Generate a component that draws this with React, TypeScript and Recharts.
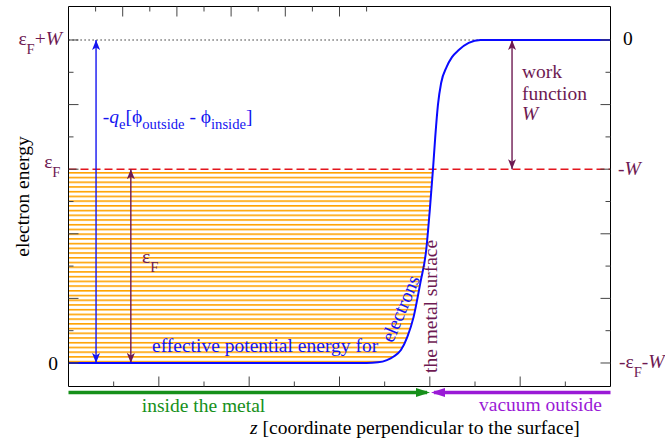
import React from 'react';
import {
  ComposedChart,
  Line,
  Area,
  XAxis,
  YAxis,
  ReferenceLine,
  ReferenceDot,
} from 'recharts';

// effective potential energy for electrons
// z in axis units (surface at 8), energy in units above the bottom of the well
const zValues = [0, 6.6, 6.85, 7.05, 7.2, 7.36, 7.5, 7.64, 7.79, 7.92, 8.0, 8.07, 8.12, 8.18, 8.25, 8.37, 8.49, 8.64, 8.86, 9.12, 12];
const energy = [0, 0, 0.02, 0.09, 0.2, 0.4, 0.8, 1.42, 2.48, 3.5, 4.75, 6.0, 7.0, 8.0, 8.67, 9.16, 9.47, 9.69, 9.91, 10, 10];

const fermi = 6; // εF
const workFn = 4; // W
const surfaceZ = 8;

// where the vertical arrows stand
const vacuumArrowZ = 0.61;
const fermiArrowZ = 1.38;
const workArrowZ = 9.82;

const zTicks = [1, 2, 3, 4, 5, 6, 7, 8, 9, 10, 11];
const eTicks = [0, 1, 2, 3, 4, 5, 6, 7, 8, 9, 10];
const labelTicks = [0, 6, 10];
const leftTickLabels = ['0', 'ε_{F}', 'ε_{F}+*W*'];
const rightTickLabels = ['-ε_{F}-*W*', '-*W*', '0'];

const W = 665;
const H = 441;
const FONT = '"Liberation Serif", "DejaVu Serif", serif';
const FS = 19.5;
const BLUE = '#1414f0';
const MAROON = '#6e1a52';
const GREEN = '#16901a';
const PURPLE = '#9a1ad6';

type Seg = { t: string; sub: boolean; it: boolean };

// tiny markup: _{..} subscript, *..* italic
function parseRich(s: string): Seg[] {
  const segs: Seg[] = [];
  let buf = '';
  let it = false;
  let i = 0;
  const push = (sub: boolean) => {
    if (buf) segs.push({ t: buf, sub, it });
    buf = '';
  };
  while (i < s.length) {
    const c = s[i];
    if (c === '*') {
      push(false);
      it = !it;
      i++;
    } else if (c === '_' && s[i + 1] === '{') {
      push(false);
      const j = s.indexOf('}', i);
      buf = s.slice(i + 2, j);
      push(true);
      i = j + 1;
    } else {
      buf += c;
      i++;
    }
  }
  push(false);
  return segs;
}

function Rich({ x, y, text, fill = '#000', anchor = 'start', angle = 0, subDy = 6 }: any) {
  const segs = parseRich(text);
  let prev = false;
  return (
    <text
      x={x}
      y={y}
      fill={fill}
      fontFamily={FONT}
      fontSize={FS}
      textAnchor={anchor}
      style={{ whiteSpace: 'pre' }}
      transform={angle ? `rotate(${angle} ${x} ${y})` : undefined}
    >
      {segs.map((s, k) => {
        const dy = (s.sub ? subDy : 0) - (prev ? subDy : 0);
        prev = s.sub;
        return (
          <tspan key={k} dy={dy} fontSize={s.sub ? FS * 0.75 : FS} fontStyle={s.it ? 'italic' : 'normal'}>
            {s.t}
          </tspan>
        );
      })}
    </text>
  );
}

function ZTick({ x, y, payload, dir }: any) {
  const len = payload.value % 2 === 0 ? 10 : 5;
  return <line x1={x} x2={x} y1={y} y2={y + dir * len} stroke="#444" />;
}

function ETick({ x, y, payload, side }: any) {
  const v = payload.value;
  const len = v % 2 === 0 ? 10 : 5;
  const dir = side === 'left' ? 1 : -1;
  const i = labelTicks.indexOf(v);
  let label = null;
  if (i >= 0) {
    if (side === 'left') {
      const dx = [-10.5, -8, -6.5][i];
      const dy = [7, -1.5, 5][i];
      label = (
        <Rich x={x + dx} y={y + dy} text={leftTickLabels[i]} anchor="end" fill={v === 0 ? '#000' : MAROON} subDy={9.5} />
      );
    } else {
      const dx = [8.5, 7.5, 12.5][i];
      const dy = [5, 6, 5][i];
      label = <Rich x={x + dx} y={y + dy} text={rightTickLabels[i]} fill={v === 10 ? '#000' : MAROON} subDy={9.5} />;
    }
  }
  return (
    <g>
      <line x1={x} x2={x + dir * len} y1={y} y2={y} stroke="#444" />
      {label}
    </g>
  );
}

const arrowShape = (color: string, width: number, marker: string, both: boolean) => (p: any) => (
  <line
    x1={p.x1}
    y1={p.y1}
    x2={p.x2}
    y2={p.y2}
    stroke={color}
    strokeWidth={width}
    markerEnd={`url(#${marker})`}
    markerStart={both ? `url(#${marker})` : undefined}
  />
);

const note = (text: string, fill: string, extra: any = {}) => (p: any) => (
  <Rich x={p.cx} y={p.cy} text={text} fill={fill} {...extra} />
);

export default function App() {
  const data = zValues.map((z, i) => ({
    z,
    v: energy[i],
    band: energy[i] <= fermi ? [energy[i], fermi] : null,
  }));

  const ids = { xAxisId: 'b', yAxisId: 'l' };

  return (
    <div style={{ position: 'absolute', left: 0, top: 0, width: W, height: H, background: '#fff' }}>
      <svg width={0} height={0} style={{ position: 'absolute' }}>
        <defs>
          <pattern id="hatch" patternUnits="userSpaceOnUse" x={0} y={172} width={12} height={4.72}>
            <rect x={0} y={0} width={12} height={1.6} fill="#ffa200" />
          </pattern>
          <marker id="mBlue" viewBox="0 0 10 8" refX={10} refY={4} markerWidth={10} markerHeight={8} markerUnits="userSpaceOnUse" orient="auto-start-reverse">
            <path d="M0,0 L10,4 L0,8 L2.5,4 Z" fill={BLUE} />
          </marker>
          <marker id="mMaroon" viewBox="0 0 10 8" refX={10} refY={4} markerWidth={10} markerHeight={8} markerUnits="userSpaceOnUse" orient="auto-start-reverse">
            <path d="M0,0 L10,4 L0,8 L2.5,4 Z" fill={MAROON} />
          </marker>
          <marker id="mGreen" viewBox="0 0 14 9" refX={11} refY={4.5} markerWidth={14} markerHeight={9} markerUnits="userSpaceOnUse" orient="auto">
            <path d="M0,0 L14,4.5 L0,9 Z" fill={GREEN} />
          </marker>
          <marker id="mPurple" viewBox="0 0 14 9" refX={11} refY={4.5} markerWidth={14} markerHeight={9} markerUnits="userSpaceOnUse" orient="auto">
            <path d="M0,0 L14,4.5 L0,9 Z" fill={PURPLE} />
          </marker>
        </defs>
      </svg>
      <ComposedChart
        width={W}
        height={H}
        data={data}
        margin={{ top: 6.5, right: 54.5, bottom: 54.5, left: 68.5 }}
        style={{ fontFamily: FONT }}
      >
        <XAxis
          xAxisId="b"
          dataKey="z"
          type="number"
          domain={[0, 12]}
          allowDataOverflow
          ticks={zTicks}
          interval={0}
          orientation="bottom"
          mirror
          tickSize={0}
          tickMargin={0}
          tickLine={false}
          axisLine={{ stroke: '#000' }}
          tick={<ZTick dir={-1} />}
        />
        <XAxis
          xAxisId="t"
          type="number"
          domain={[0, 12]}
          allowDataOverflow
          ticks={zTicks}
          interval={0}
          orientation="top"
          mirror
          tickSize={0}
          tickMargin={0}
          tickLine={false}
          axisLine={{ stroke: '#000' }}
          tick={<ZTick dir={1} />}
        />
        <YAxis
          yAxisId="l"
          type="number"
          domain={[-0.728, 11.037]}
          allowDataOverflow
          ticks={eTicks}
          interval={0}
          orientation="left"
          mirror
          tickSize={0}
          tickMargin={0}
          tickLine={false}
          axisLine={{ stroke: '#000' }}
          tick={<ETick side="left" />}
        />
        <YAxis
          yAxisId="r"
          type="number"
          domain={[-0.728, 11.037]}
          allowDataOverflow
          ticks={eTicks}
          interval={0}
          orientation="right"
          mirror
          tickSize={0}
          tickMargin={0}
          tickLine={false}
          axisLine={{ stroke: '#000' }}
          tick={<ETick side="right" />}
        />

        {/* occupied states inside the metal */}
        <Area {...ids} dataKey="band" type="monotone" stroke="none" fill="url(#hatch)" fillOpacity={1} isAnimationActive={false} />

        <ReferenceLine {...ids} y={fermi + workFn} stroke="#000" strokeWidth={1.2} strokeDasharray="1.2 2.8" />
        <ReferenceLine {...ids} y={fermi} stroke="#e3161e" strokeWidth={1.5} strokeDasharray="8 4" />

        <ReferenceLine
          {...ids}
          segment={[{ x: vacuumArrowZ, y: 0 }, { x: vacuumArrowZ, y: fermi + workFn }]}
          shape={arrowShape(BLUE, 1.4, 'mBlue', true)}
        />
        <ReferenceLine
          {...ids}
          segment={[{ x: fermiArrowZ, y: 0 }, { x: fermiArrowZ, y: fermi }]}
          shape={arrowShape(MAROON, 1.4, 'mMaroon', true)}
        />
        <ReferenceLine
          {...ids}
          segment={[{ x: workArrowZ, y: fermi }, { x: workArrowZ, y: fermi + workFn }]}
          shape={arrowShape(MAROON, 1.4, 'mMaroon', true)}
        />
        <ReferenceLine
          {...ids}
          ifOverflow="visible"
          segment={[{ x: 0, y: -0.913 }, { x: surfaceZ - 0.063, y: -0.913 }]}
          shape={arrowShape(GREEN, 3.5, 'mGreen', false)}
        />
        <ReferenceLine
          {...ids}
          ifOverflow="visible"
          segment={[{ x: 12, y: -0.913 }, { x: surfaceZ + 0.093, y: -0.913 }]}
          shape={arrowShape(PURPLE, 3.5, 'mPurple', false)}
        />

        <Line {...ids} dataKey="v" type="monotone" stroke="#0a0aff" strokeWidth={2} dot={false} activeDot={false} isAnimationActive={false} />

        {/* annotations */}
        <ReferenceDot {...ids} x={0.76} y={7.43} r={0} shape={note('-*q*_{e}[ϕ_{outside} - ϕ_{inside}]', BLUE)} />
        <ReferenceDot {...ids} x={1.849} y={0.34} r={0} shape={note('effective potential energy for', BLUE)} />
        <ReferenceDot {...ids} x={7.18} y={0.6} r={0} shape={note('electrons', BLUE, { angle: -67 })} />
        <ReferenceDot {...ids} x={8.169} y={-0.31} r={0} ifOverflow="visible" shape={note('the metal surface', MAROON, { angle: -90 })} />
        <ReferenceDot {...ids} x={10.04} y={8.82} r={0} shape={note('work', MAROON)} />
        <ReferenceDot {...ids} x={10.04} y={8.142} r={0} shape={note('function', MAROON)} />
        <ReferenceDot {...ids} x={10.04} y={7.523} r={0} shape={note('*W*', MAROON)} />
        <ReferenceDot {...ids} x={1.627} y={3.096} r={0} shape={note('ε_{F}', MAROON, { subDy: 9 })} />
        <ReferenceDot {...ids} x={2.989} y={-1.517} r={0} ifOverflow="visible" shape={note('inside the metal', GREEN, { anchor: 'middle' })} />
        <ReferenceDot {...ids} x={11.811} y={-1.502} r={0} ifOverflow="visible" shape={note('vacuum outside', PURPLE, { anchor: 'end' })} />
        <ReferenceDot {...ids} x={7.671} y={-2.198} r={0} ifOverflow="visible" shape={note('*z* [coordinate perpendicular to the surface]', '#000', { anchor: 'middle' })} />
        <ReferenceDot {...ids} x={-0.874} y={5.155} r={0} ifOverflow="visible" shape={note('electron energy', '#000', { anchor: 'middle', angle: -90 })} />
      </ComposedChart>
    </div>
  );
}
